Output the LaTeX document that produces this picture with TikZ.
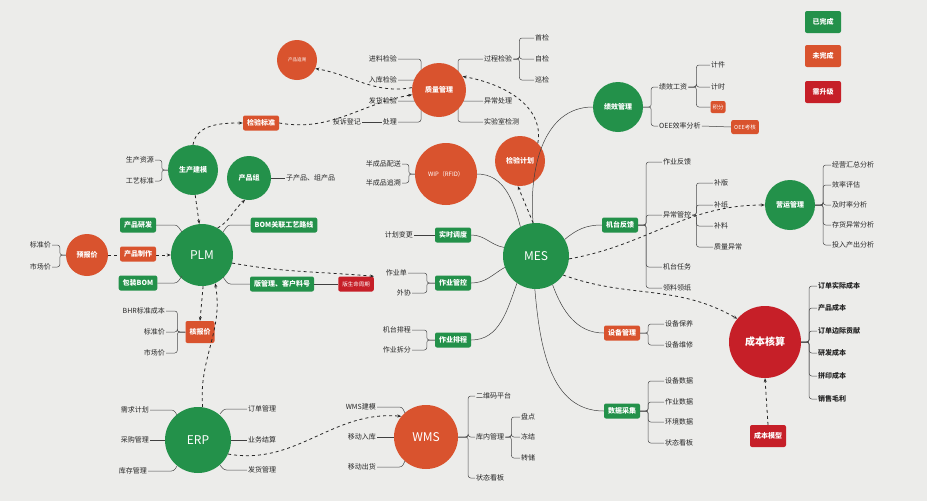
\documentclass[tikz,border=0pt]{standalone}
\usepackage{fontspec}
\newfontfamily\cjk{Noto Sans CJK SC}
\usetikzlibrary{arrows.meta}
\definecolor{gG}{HTML}{23914A}
\definecolor{gO}{HTML}{D9532E}
\definecolor{gR}{HTML}{C61F28}
\definecolor{bg}{HTML}{ECECEA}
\begin{document}
\begin{tikzpicture}[x=1pt,y=-1pt,
  circ/.style={circle,text=white,font=\cjk\bfseries\fontsize{7}{8}\selectfont,inner sep=0pt,minimum size=#1},
  gc/.style={circ=#1,fill=gG},
  oc/.style={circ=#1,fill=gO},
  rc/.style={circ=#1,fill=gR},
  bx/.style={rounded corners=2pt,text=white,font=\cjk\bfseries\fontsize{7}{8}\selectfont,inner xsep=4pt,minimum height=15pt},
  gb/.style={bx,fill=gG},
  ob/.style={bx,fill=gO},
  rb/.style={bx,fill=gR},
  lb/.style={font=\cjk\fontsize{7}{8}\selectfont,inner sep=1pt,text=black!85},
  bl/.style={font=\cjk\bfseries\fontsize{7}{8}\selectfont,inner sep=1pt,text=black!85},
  big/.style={font=\cjk\fontsize{12}{14}\selectfont},
  br/.style={draw=black!70,line width=0.5pt,rounded corners=2.5pt},
  da/.style={draw=black!85,dashed,line width=0.8pt,-{Stealth[length=4pt]}},
  cn/.style={draw=black!75,line width=0.5pt}]
\fill[bg] (0,0) rectangle (927,501);
\useasboundingbox (0,0) rectangle (927,501);

% legend
\node[gb,minimum width=36pt,minimum height=22pt] (l1) at (823,22) {已完成};
\node[ob,minimum width=36pt,minimum height=22pt] (l2) at (823,56) {未完成};
\node[rb,minimum width=36pt,minimum height=22pt] (l3) at (823,92) {需升级};

% quality
\node[oc=40pt,font=\cjk\fontsize{4.5}{5}\selectfont] (zs) at (297,60) {产品追溯};
\node[lb,anchor=east] (q1) at (398,59) {进料检验};
\node[lb,anchor=east] (q2) at (398,80) {入库检验};
\node[lb,anchor=east] (q3) at (398,101) {发货检验};
\node[lb,anchor=east] (q4) at (398,122) {处理};
\node[lb,anchor=east] (q5) at (362,122) {投诉登记};
\node[lb,anchor=west] (q6) at (483,59) {过程检验};
\node[lb,anchor=west] (q7) at (483,101) {异常处理};
\node[lb,anchor=west] (q8) at (483,122) {实验室检测};
\path (439,90) coordinate (qc);
\foreach \c in {q1,q2,q3,q4} \draw[br] (qc) -- (421,90) |- (\c.east);
\foreach \c in {q6,q7,q8} \draw[br] (qc) -- (458,90) |- (\c.west);
\node[oc=54pt] (q) at (qc) {质量管理};
\draw[cn] (q5.east) -- (q4.west);
\node[lb,anchor=west] (s1) at (534,38) {首检};
\node[lb,anchor=west] (s2) at (534,59) {自检};
\node[lb,anchor=west] (s3) at (534,80) {巡检};
\foreach \c in {s1,s2,s3} \draw[br] (q6.east) -- ++(6,0) |- (\c.west);

\node[ob] (jb) at (261,123) {检验标准};

% production modeling
\node[gc=50pt] (sc) at (193,170) {生产建模};
\node[lb,anchor=east] (sc1) at (155,160) {生产资源};
\node[lb,anchor=east] (sc2) at (155,181) {工艺标准};
\foreach \c in {sc1,sc2} \draw[br] (sc.west) -- ++(-6,0) |- (\c.east);
\node[gc=44pt] (pz) at (249,178) {产品组};
\node[lb,anchor=west] (pz1) at (285,178) {子产品、组产品};
\draw[cn,line width=0.8pt] (pz.east) -- (pz1.west);

% PLM
\node[gc=62pt,big] (plm) at (202,255) {PLM};
\node[gb] (p1) at (138,225) {产品研发};
\node[gb] (p3) at (138,283) {包装BOM};
\draw[br] (p1.east) -- (177,225) -- (182,232);
\draw[br] (p3.east) -- (177,283) -- (182,276);
\node[gb] (p4) at (284,225) {BOM关联工艺路线};
\node[gb] (p5) at (282,284) {版管理、客户料号};
\node[rb,font=\cjk\fontsize{5.5}{7}\selectfont] (p6) at (356,284) {版生命周期};
\draw[br] (p4.west) -- (228,225) -- (223,232);
\draw[br] (p5.west) -- (228,284) -- (223,277);
\draw[cn] (p5.east) -- (p6.west);

\node[oc=42pt] (yb) at (87,255) {预报价};
\node[lb,anchor=east] (y1) at (52,245) {标准价};
\node[lb,anchor=east] (y2) at (52,267) {市场价};
\foreach \c in {y1,y2} \draw[br] (yb.west) -- ++(-6,0) |- (\c.east);

\node[ob,minimum height=22pt] (hb) at (200,332) {核报价};
\node[lb,anchor=east] (h1) at (166,311) {BHR标准成本};
\node[lb,anchor=east] (h2) at (166,332) {标准价};
\node[lb,anchor=east] (h3) at (166,353) {市场价};
\foreach \c in {h1,h2,h3} \draw[br] (hb.west) -- ++(-8,0) |- (\c.east);

% ERP
\node[gc=66pt,big] (erp) at (198,440) {ERP};
\node[lb,anchor=east] (e1) at (150,410) {需求计划};
\node[lb,anchor=east] (e2) at (150,440) {采购管理};
\node[lb,anchor=east] (e3) at (148,471) {库存管理};
\node[lb,anchor=west] (e4) at (247,409) {订单管理};
\node[lb,anchor=west] (e5) at (247,440) {业务结算};
\node[lb,anchor=west] (e6) at (247,470) {发货管理};
\draw[br] (e1.east) -- (174,410) -- (177,415);
\draw[cn] (e2.east) -- (erp.west);
\draw[br] (e3.east) -- (174,471) -- (177,466);
\draw[br] (e4.west) -- (224,409) -- (220,414);
\draw[cn] (e5.west) -- (erp.east);
\draw[br] (e6.west) -- (224,470) -- (220,465);

% WMS
\node[oc=64pt,big] (wms) at (426,437) {WMS};
\node[lb,anchor=east] (w1) at (377,407) {WMS建模};
\node[lb,anchor=east] (w2) at (377,437) {移动入库};
\node[lb,anchor=east] (w3) at (377,467) {移动出货};
\draw[br] (w1.east) -- (402,407) -- (405,413);
\draw[cn] (w2.east) -- (wms.west);
\draw[br] (w3.east) -- (402,467) -- (405,461);
\node[lb,anchor=west] (w4) at (475,396) {二维码平台};
\node[lb,anchor=west] (w5) at (475,437) {库内管理};
\node[lb,anchor=west] (w6) at (475,478) {状态看板};
\foreach \c in {w4,w5,w6} \draw[br] (wms.east) -- ++(10,0) |- (\c.west);
\node[lb,anchor=west] (w7) at (520,417) {盘点};
\node[lb,anchor=west] (w8) at (520,437) {冻结};
\node[lb,anchor=west] (w9) at (520,458) {转储};
\foreach \c in {w7,w8,w9} \draw[br] (w5.east) -- ++(6,0) |- (\c.west);

% MES
\node[gc=66pt,big] (mes) at (536,256) {MES};
\node[oc=62pt,font=\cjk\fontsize{6}{7}\selectfont] (wip) at (446,174) {WIP（RFID）};
\node[lb,anchor=east] (wi1) at (402,164) {半成品配送};
\node[lb,anchor=east] (wi2) at (402,183) {半成品追溯};
\foreach \c in {wi1,wi2} \draw[br] (wip.west) -- ++(-6,0) |- (\c.east);
\node[oc=50pt] (jh) at (520,161) {检验计划};
\node[gb] (ss) at (453,235) {实时调度};
\node[lb,anchor=east] (ss1) at (414,235) {计划变更};
\draw[cn] (ss1.east) -- (ss.west);
\node[gb] (gk) at (453,283) {作业管控};
\node[lb,anchor=east] (gk1) at (408,273) {作业单};
\node[lb,anchor=east] (gk2) at (412,293) {外协};
\foreach \c in {gk1,gk2} \draw[br] (gk.west) -- ++(-8,0) |- (\c.east);
\node[gb] (pc) at (453,340) {作业排程};
\node[lb,anchor=east] (pc1) at (412,330) {机台排程};
\node[lb,anchor=east] (pc2) at (412,350) {作业拆分};
\foreach \c in {pc1,pc2} \draw[br] (pc.west) -- ++(-8,0) |- (\c.east);

\node[gc=50pt] (jx) at (618,107) {绩效管理};
\node[lb,anchor=west] (jx1) at (658,87) {绩效工资};
\node[lb,anchor=west] (jx2) at (658,126) {OEE效率分析};
\foreach \c in {jx1,jx2} \draw[br] (jx.east) -- ++(8,0) |- (\c.west);
\node[lb,anchor=west] (k1) at (710,65) {计件};
\node[lb,anchor=west] (k2) at (710,87) {计时};
\node[ob,font=\cjk\fontsize{5.5}{7}\selectfont,minimum height=12pt,inner xsep=2pt] (k3) at (718,107) {积分};
\foreach \c in {k1,k2,k3} \draw[br] (jx1.east) -- ++(8,0) |- (\c.west);
\node[ob,font=\cjk\fontsize{5.5}{7}\selectfont,minimum height=14pt,inner xsep=3pt] (oee) at (745,127) {OEE考核};
\draw[cn] (jx2.east) -- (oee.west);

\node[gb] (jt) at (620,225) {机台反馈};
\node[lb,anchor=west] (jt1) at (662,162) {作业反馈};
\node[lb,anchor=west] (jt2) at (662,215) {异常管控};
\node[lb,anchor=west] (jt3) at (662,267) {机台任务};
\node[lb,anchor=west] (jt4) at (662,288) {领料领纸};
\foreach \c in {jt1,jt2,jt3,jt4} \draw[br] (jt.east) -- ++(8,0) |- (\c.west);
\node[lb,anchor=west] (b1) at (713,183) {补版};
\node[lb,anchor=west] (b2) at (713,205) {补纸};
\node[lb,anchor=west] (b3) at (713,226) {补料};
\node[lb,anchor=west] (b4) at (713,247) {质量异常};
\foreach \c in {b1,b2,b3,b4} \draw[br] (jt2.east) -- ++(4,0) |- (\c.west);

\node[gc=50pt] (yy) at (790,205) {营运管理};
\node[lb,anchor=west] (y01) at (831,165) {经营汇总分析};
\node[lb,anchor=west] (y02) at (831,185) {效率评估};
\node[lb,anchor=west] (y03) at (831,205) {及时率分析};
\node[lb,anchor=west] (y04) at (831,225) {存货异常分析};
\node[lb,anchor=west] (y05) at (831,245) {投入产出分析};
\foreach \c in {y01,y02,y03,y04,y05} \draw[br] (yy.east) -- ++(8,0) |- (\c.west);

\node[rc=72pt,font=\cjk\bfseries\fontsize{10}{12}\selectfont] (cb) at (765,342) {成本核算};
\foreach \t/\yy [count=\i] in {订单实际成本/286,产品成本/308,订单边际贡献/331,研发成本/353,拼印成本/376,销售毛利/399}
  {\node[bl,anchor=west] (c\i) at (817,\yy) {\t};}
\foreach \i in {1,...,6} \draw[br] (cb.east) -- ++(8,0) |- (c\i.west);
\node[rb,minimum height=22pt] (cm) at (768,436) {成本模型};

\node[ob] (sb) at (622,333) {设备管理};
\node[lb,anchor=west] (sb1) at (664,324) {设备保养};
\node[lb,anchor=west] (sb2) at (664,345) {设备维修};
\foreach \c in {sb1,sb2} \draw[br] (sb.east) -- ++(8,0) |- (\c.west);
\node[gb] (cj) at (622,411) {数据采集};
\node[lb,anchor=west] (cj1) at (664,381) {设备数据};
\node[lb,anchor=west] (cj2) at (664,402) {作业数据};
\node[lb,anchor=west] (cj3) at (664,422) {环境数据};
\node[lb,anchor=west] (cj4) at (664,443) {状态看板};
\foreach \c in {cj1,cj2,cj3,cj4} \draw[br] (cj.east) -- ++(8,0) |- (\c.west);

% MES connectors
\draw[cn] (mes.95) to[out=95,in=180] (jx.west);
\draw[cn] (mes.118) to[out=105,in=0] (wip.east);
\draw[cn] (mes.165) to[out=170,in=0] (ss.east);
\draw[cn] (mes.200) to[out=210,in=0] (gk.east);
\draw[cn] (mes.235) to[out=250,in=0] (pc.east);
\draw[cn] (mes.30) to[out=40,in=180] (jt.west);
\draw[cn] (mes.300) to[out=290,in=180] (sb.west);
\draw[cn] (mes.268) to[out=275,in=180] (cj.west);

% dashed arrows
\draw[da] (q.175) to[out=190,in=-10] (zs.-25);
\draw[da] (jb.east) to[out=-10,in=190] (q.190);
\draw[da] (sc.90) to[out=80,in=180] (jb.west);
\draw[da] (sc.-85) -- (plm.95);
\draw[da] (plm.60) to[out=30,in=220] (pz.-100);
\draw[da] (yb.east) -- (plm.west);
\node[ob] (p2) at (138,254) {产品制作};
\draw[da] (plm.-15) to[out=-10,in=175] (p6.north east);
\draw[da] (plm.-88) -- (hb.north);
\draw[da] (erp.82) to[out=95,in=-80] (plm.-65);
\draw[da] (erp.-25) to[out=-10,in=175] (wms.140);
\draw[da] (jh.north east) to[out=80,in=-10] (q.30);
\draw[da] (mes.95) -- (jh.-95);
\draw[da] (mes.-5) to[out=10,in=180] (yy.west);
\draw[da] (mes.-35) to[out=-20,in=150] (cb.140);
\draw[da] (cm.north) -- (cb.south);
\end{tikzpicture}
\end{document}
